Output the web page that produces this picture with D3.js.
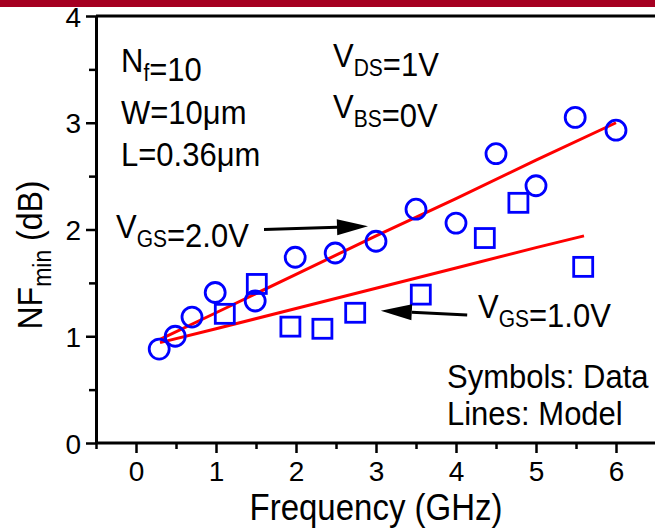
<!DOCTYPE html>
<html>
<head>
<meta charset="utf-8">
<script src="https://cdn.jsdelivr.net/npm/d3@7"></script>
<style>
  body { margin: 0; background: #fff; }
  svg { display: block; font-family: "Liberation Sans", Arial, sans-serif; }
</style>
</head>
<body>
<div id="body"></div>
<script>
// measured data, VGS = 2.0 V (circles) and VGS = 1.0 V (squares)
var freq2 = [0.29, 0.49, 0.7, 0.99, 1.49, 1.99, 2.49, 3.0, 3.5, 4.0, 4.5, 5.0, 5.49, 6.0];
var nf2 = [0.88, 1.0, 1.18, 1.41, 1.33, 1.74, 1.78, 1.89, 2.19, 2.06, 2.71, 2.41, 3.05, 2.93];
var freq1 = [1.11, 1.51, 1.93, 2.33, 2.74, 3.56, 4.36, 4.78, 5.59];
var nf1 = [1.21, 1.49, 1.09, 1.07, 1.22, 1.39, 1.92, 2.25, 1.65];

// model lines
var modelFreq2 = [0.3, 1, 2, 3, 4, 5, 6];
var modelNf2 = [0.97, 1.22, 1.58, 1.94, 2.29, 2.65, 3.0];
var modelFreq1 = [0.3, 1, 2, 3, 4, 5, 5.6];
var modelNf1 = [0.94, 1.07, 1.26, 1.45, 1.64, 1.83, 1.94];

var xTicks = [0, 1, 2, 3, 4, 5, 6];
var xMinor = [-0.5, 0.5, 1.5, 2.5, 3.5, 4.5, 5.5];
var yTicks = [0, 1, 2, 3, 4];
var yMinor = [0.5, 1.5, 2.5, 3.5];

var width = 655, height = 530;
var stretch = 1.1; // text in the source is a bit taller than Arial

var svg = d3.select("#body")
  .append("svg")
  .attr("width", width)
  .attr("height", height);

var x = d3.scaleLinear().domain([-0.5, 6.5]).range([96, 656]);
var y = d3.scaleLinear().domain([0, 4]).range([443, 16]);

// top banner
svg.append("rect")
  .attr("x", 0).attr("y", 0)
  .attr("width", width).attr("height", 7)
  .attr("fill", "#a50021");

// top frame line
svg.append("line")
  .attr("x1", x(-0.5)).attr("x2", width)
  .attr("y1", y(4)).attr("y2", y(4))
  .attr("stroke", "#000").attr("stroke-width", 3);

var xAxis = svg.append("g")
  .attr("transform", "translate(0," + y(0) + ")")
  .call(d3.axisBottom(x).tickValues(xTicks).tickSize(10).tickPadding(6)
    .tickSizeOuter(0).tickFormat(d3.format("d")));

svg.append("g")
  .attr("transform", "translate(0," + y(0) + ")")
  .call(d3.axisBottom(x).tickValues(xMinor).tickSize(6).tickFormat("").tickSizeOuter(0))
  .select(".domain").remove();

var yAxis = svg.append("g")
  .attr("transform", "translate(" + x(-0.5) + ",0)")
  .call(d3.axisLeft(y).tickValues(yTicks).tickSize(10).tickPadding(5)
    .tickSizeOuter(0).tickFormat(d3.format("d")));

svg.append("g")
  .attr("transform", "translate(" + x(-0.5) + ",0)")
  .call(d3.axisLeft(y).tickValues(yMinor).tickSize(7).tickFormat("").tickSizeOuter(0))
  .select(".domain").remove();

svg.selectAll(".domain").attr("stroke", "#000").attr("stroke-width", 3);
xAxis.select(".domain").attr("d", "M" + x(-0.5) + ",0H" + width);
svg.selectAll(".tick line").attr("stroke", "#000").attr("stroke-width", 2.5);
svg.selectAll(".tick text")
  .attr("font-family", "Liberation Sans, Arial, sans-serif")
  .attr("font-size", 28)
  .attr("fill", "#000");
xAxis.selectAll(".tick text").attr("dy", "0.78em");
yAxis.selectAll(".tick text").attr("dy", "0.36em");

// axis titles
svg.append("g")
  .attr("transform", "translate(" + x(3) + ",520) scale(1," + stretch + ")")
  .append("text")
  .attr("text-anchor", "middle")
  .attr("font-size", 33)
  .text("Frequency (GHz)");

var yTitle = svg.append("g")
  .attr("transform", "translate(42,255) rotate(-90) scale(1," + stretch + ")")
  .append("text")
  .attr("text-anchor", "middle")
  .attr("font-size", 32);
yTitle.append("tspan").text("NF");
yTitle.append("tspan").attr("font-size", 23).attr("dy", 8).text("min");
yTitle.append("tspan").attr("dy", -8).text(" (dB)");

// model lines
var line = d3.line()
  .x(function(d) { return x(d[0]); })
  .y(function(d) { return y(d[1]); });

[[modelFreq2, modelNf2], [modelFreq1, modelNf1]].forEach(function(m) {
  svg.append("path")
    .datum(m[0].map(function(f, i) { return [f, m[1][i]]; }))
    .attr("fill", "none")
    .attr("stroke", "#ff0000")
    .attr("stroke-width", 3)
    .attr("d", line);
});

// data symbols
svg.append("g")
  .selectAll("circle")
  .data(freq2.map(function(f, i) { return [f, nf2[i]]; }))
  .enter()
  .append("circle")
  .attr("cx", function(d) { return x(d[0]); })
  .attr("cy", function(d) { return y(d[1]); })
  .attr("r", 10)
  .attr("fill", "none")
  .attr("stroke", "#0000ff")
  .attr("stroke-width", 2.8);

svg.append("g")
  .selectAll("rect")
  .data(freq1.map(function(f, i) { return [f, nf1[i]]; }))
  .enter()
  .append("rect")
  .attr("x", function(d) { return x(d[0]) - 9.5; })
  .attr("y", function(d) { return y(d[1]) - 9.5; })
  .attr("width", 19)
  .attr("height", 19)
  .attr("fill", "none")
  .attr("stroke", "#0000ff")
  .attr("stroke-width", 2.8);

// text annotations
function label(px, py, parts) {
  var t = svg.append("g")
    .attr("transform", "translate(" + px + "," + py + ") scale(1," + stretch + ")")
    .append("text")
    .attr("font-size", 31)
    .attr("fill", "#000");
  parts.forEach(function(p) {
    if (p.sub) {
      t.append("tspan").attr("font-size", 21).attr("dy", 8).text(p.sub);
      t.append("tspan").attr("dy", -8).text("");
    } else {
      t.append("tspan").text(p.text);
    }
  });
  return t;
}

label(121, 72, [{text: "N"}, {sub: "f"}, {text: "=10"}]);
label(121, 124, [{text: "W=10\u03bcm"}]);
label(121, 166, [{text: "L=0.36\u03bcm"}]);
label(333, 67, [{text: "V"}, {sub: "DS"}, {text: "=1V"}]);
label(333, 118, [{text: "V"}, {sub: "BS"}, {text: "=0V"}]);
label(116, 238, [{text: "V"}, {sub: "GS"}, {text: "=2.0V"}]);
label(478, 318, [{text: "V"}, {sub: "GS"}, {text: "=1.0V"}]);
label(447, 388, [{text: "Symbols: Data"}]);
label(447, 425, [{text: "Lines: Model"}]);

// arrows
var arrows = [
  {from: [1.6, 2.0], to: [2.9, 2.03]},
  {from: [4.14, 1.2], to: [3.06, 1.24]}
];
arrows.forEach(function(a) {
  var x0 = x(a.from[0]), y0 = y(a.from[1]);
  var x1 = x(a.to[0]), y1 = y(a.to[1]);
  var ang = Math.atan2(y1 - y0, x1 - x0);
  var len = 31, half = 8;
  var bx = x1 - len * Math.cos(ang), by = y1 - len * Math.sin(ang);
  svg.append("line")
    .attr("x1", x0).attr("y1", y0)
    .attr("x2", bx).attr("y2", by)
    .attr("stroke", "#000").attr("stroke-width", 3);
  svg.append("path")
    .attr("d", "M" + x1 + "," + y1 +
      "L" + (bx + half * Math.sin(ang)) + "," + (by - half * Math.cos(ang)) +
      "L" + (bx - half * Math.sin(ang)) + "," + (by + half * Math.cos(ang)) + "Z")
    .attr("fill", "#000");
});
</script>
</body>
</html>
